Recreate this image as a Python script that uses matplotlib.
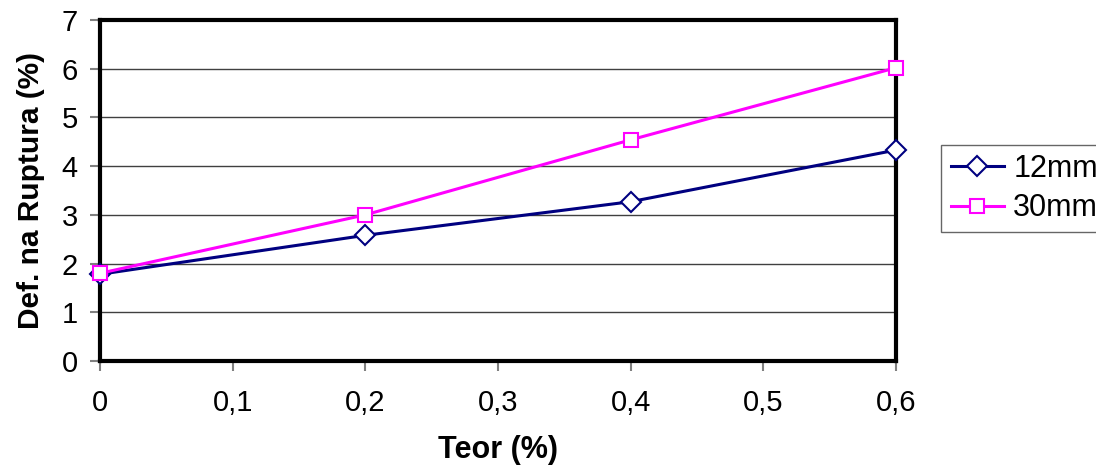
import matplotlib
matplotlib.use("Agg")
import matplotlib.pyplot as plt

plt.rcParams['font.family'] = ['Liberation Sans', 'DejaVu Sans']

# dados
teor = [0, 0.2, 0.4, 0.6]
def_12mm = [1.78, 2.58, 3.27, 4.33]
def_30mm = [1.80, 3.00, 4.54, 6.02]
xticks = [0, 0.1, 0.2, 0.3, 0.4, 0.5, 0.6]
xtick_labels = ['0', '0,1', '0,2', '0,3', '0,4', '0,5', '0,6']
yticks = [0, 1, 2, 3, 4, 5, 6, 7]

fig = plt.figure(figsize=(10.96, 4.72), dpi=100)
ax = fig.add_axes([0.0912, 0.2352, 0.7263, 0.7224])

ax.plot(teor, def_12mm, color='#000080', linewidth=2.2, marker='D', markersize=10,
        markerfacecolor='white', markeredgecolor='#000080', markeredgewidth=1.5,
        label='12mm', clip_on=False, zorder=3)
ax.plot(teor, def_30mm, color='#ff00ff', linewidth=2.2, marker='s', markersize=9.5,
        markerfacecolor='white', markeredgecolor='#ff00ff', markeredgewidth=1.5,
        label='30mm', clip_on=False, zorder=4)

ax.set_xlim(0, 0.6)
ax.set_ylim(0, 7)
ax.set_xticks(xticks)
ax.set_xticklabels(xtick_labels)
ax.set_yticks(yticks)

ax.grid(True, axis='y', color='#404040', linewidth=1)
ax.set_axisbelow(True)
for s in ax.spines.values():
    s.set_linewidth(3)
    s.set_color('black')

ax.tick_params(axis='both', direction='out', length=7, width=1.5, color='#808080',
               labelsize=21)
ax.tick_params(axis='x', pad=13)
ax.tick_params(axis='y', pad=9)

ax.set_xlabel('Teor (%)', fontsize=22, fontweight='bold', labelpad=13)
ax.set_ylabel('Def. na Ruptura (%)', fontsize=21.5, fontweight='bold', labelpad=12)

leg = fig.legend(loc='upper left', bbox_to_anchor=(0.859, 0.693), fontsize=22,
                 frameon=True, fancybox=False, handlelength=1.75, handletextpad=0.3,
                 borderpad=0.3, labelspacing=0.3, borderaxespad=0)
leg.get_frame().set_edgecolor('#404040')
leg.get_frame().set_linewidth(1)

fig.savefig('out.png', dpi=100)
